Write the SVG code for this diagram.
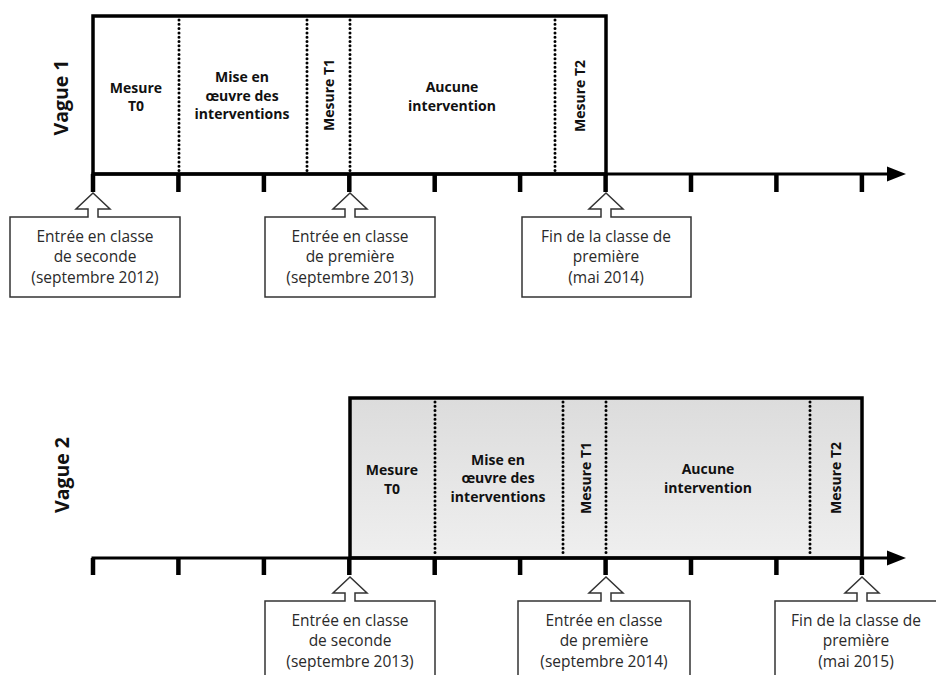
<svg xmlns="http://www.w3.org/2000/svg" width="936" height="675" viewBox="0 0 936 675">
<style>
.frame{fill:none;stroke:#000;stroke-width:3.5}
.axis{stroke:#000;stroke-width:3;fill:none}
.tick{stroke:#000;stroke-width:4.5}
.dot{stroke:#000;stroke-width:3;stroke-dasharray:0 4.3;stroke-linecap:round;fill:none}
.b{font-family:"Open Sans","Liberation Sans",sans-serif;font-weight:700;font-size:14px;fill:#111;text-anchor:middle}
.lab{font-family:"Open Sans","Liberation Sans",sans-serif;font-weight:700;font-size:19.5px;fill:#111;text-anchor:middle}
.call{fill:#fff;stroke:#333;stroke-width:1.5}
.t{font-family:"Open Sans","Liberation Sans",sans-serif;font-size:15.5px;fill:#2a2a2a;text-anchor:middle}
</style>
<defs>
<linearGradient id="gr" x1="0" y1="0" x2="0" y2="1">
<stop offset="0" stop-color="#dcdcdc"/>
<stop offset="1" stop-color="#efefef"/>
</linearGradient>
</defs>

<g id="vague1">
<text class="lab" transform="translate(68,97.5) rotate(-90)">Vague 1</text>
<rect class="frame" x="93" y="16" width="513" height="158"/>
<line class="dot" x1="179" y1="20" x2="179" y2="172"/>
<line class="dot" x1="307" y1="20" x2="307" y2="172"/>
<line class="dot" x1="350" y1="20" x2="350" y2="172"/>
<line class="dot" x1="555" y1="20" x2="555" y2="172"/>
<text class="b" x="136" y="92.5">Mesure</text>
<text class="b" x="136" y="110.5">T0</text>
<text class="b" x="242" y="82">Mise en</text>
<text class="b" x="242" y="100.5">œuvre des</text>
<text class="b" x="242" y="119">interventions</text>
<text class="b" transform="translate(333.5,95) rotate(-90)">Mesure T1</text>
<text class="b" x="452" y="91.5">Aucune</text>
<text class="b" x="452" y="110.5">intervention</text>
<text class="b" transform="translate(584.5,96) rotate(-90)">Mesure T2</text>
</g>

<g id="vague2">
<text class="lab" transform="translate(69,475) rotate(-90)">Vague 2</text>
<rect x="350" y="398" width="512" height="160" fill="url(#gr)"/>
<rect class="frame" x="350" y="398" width="512" height="160"/>
<line class="dot" x1="435" y1="402" x2="435" y2="556"/>
<line class="dot" x1="563" y1="402" x2="563" y2="556"/>
<line class="dot" x1="606" y1="402" x2="606" y2="556"/>
<line class="dot" x1="810" y1="402" x2="810" y2="556"/>
<text class="b" x="392" y="474.5">Mesure</text>
<text class="b" x="392" y="493.5">T0</text>
<text class="b" x="498" y="464.5">Mise en</text>
<text class="b" x="498" y="483">œuvre des</text>
<text class="b" x="498" y="502">interventions</text>
<text class="b" transform="translate(590.5,478) rotate(-90)">Mesure T1</text>
<text class="b" x="708" y="473.5">Aucune</text>
<text class="b" x="708" y="492.5">intervention</text>
<text class="b" transform="translate(840.5,478) rotate(-90)">Mesure T2</text>
</g>

<g id="connectors">
<line class="axis" x1="91.5" y1="174" x2="892" y2="174"/>
<polygon points="887,166.5 906,174 887,181.5" fill="#000"/>
<g class="tick">
<line x1="93" y1="174" x2="93" y2="192"/>
<line x1="178.4" y1="174" x2="178.4" y2="192"/>
<line x1="263.9" y1="174" x2="263.9" y2="192"/>
<line x1="349.3" y1="174" x2="349.3" y2="192"/>
<line x1="434.7" y1="174" x2="434.7" y2="192"/>
<line x1="520.1" y1="174" x2="520.1" y2="192"/>
<line x1="605.6" y1="174" x2="605.6" y2="192"/>
<line x1="691" y1="174" x2="691" y2="192"/>
<line x1="776.4" y1="174" x2="776.4" y2="192"/>
<line x1="861.9" y1="174" x2="861.9" y2="192"/>
</g>
<line class="axis" x1="91.5" y1="558" x2="892" y2="558"/>
<polygon points="887,550.5 906,558 887,565.5" fill="#000"/>
<g class="tick">
<line x1="93" y1="558" x2="93" y2="575"/>
<line x1="178.4" y1="558" x2="178.4" y2="575"/>
<line x1="263.9" y1="558" x2="263.9" y2="575"/>
<line x1="349.3" y1="558" x2="349.3" y2="575"/>
<line x1="434.7" y1="558" x2="434.7" y2="575"/>
<line x1="520.1" y1="558" x2="520.1" y2="575"/>
<line x1="605.6" y1="558" x2="605.6" y2="575"/>
<line x1="691" y1="558" x2="691" y2="575"/>
<line x1="776.4" y1="558" x2="776.4" y2="575"/>
<line x1="861.9" y1="558" x2="861.9" y2="575"/>
</g>
</g>

<g id="callout1">
<path class="call" d="M10,217 H88 V209 H76 L93,193 L110,209 H98 V217 H180 V297 H10 Z"/>
<text class="t" x="95" y="241.5">Entrée en classe</text>
<text class="t" x="95" y="262">de seconde</text>
<text class="t" x="95" y="282.5">(septembre 2012)</text>
</g>
<g id="callout2">
<path class="call" d="M265,217 H345 V209 H333 L350,193 L367,209 H355 V217 H435 V297 H265 Z"/>
<text class="t" x="350" y="241.5">Entrée en classe</text>
<text class="t" x="350" y="262">de première</text>
<text class="t" x="350" y="282.5">(septembre 2013)</text>
</g>
<g id="callout3">
<path class="call" d="M522,217 H601 V209 H589 L606,193 L623,209 H611 V217 H691 V297 H522 Z"/>
<text class="t" x="606" y="241.5">Fin de la classe de</text>
<text class="t" x="606" y="262">première</text>
<text class="t" x="606" y="282.5">(mai 2014)</text>
</g>
<g id="callout4">
<path class="call" d="M265,601 H345 V593 H333 L350,577 L367,593 H355 V601 H435 V682 H265 Z"/>
<text class="t" x="350" y="625.5">Entrée en classe</text>
<text class="t" x="350" y="646">de seconde</text>
<text class="t" x="350" y="666.5">(septembre 2013)</text>
</g>
<g id="callout5">
<path class="call" d="M518,601 H601 V593 H589 L606,577 L623,593 H611 V601 H690 V682 H518 Z"/>
<text class="t" x="604" y="625.5">Entrée en classe</text>
<text class="t" x="604" y="646">de première</text>
<text class="t" x="604" y="666.5">(septembre 2014)</text>
</g>
<g id="callout6">
<path class="call" d="M775,601 H857 V593 H845 L862,577 L879,593 H867 V601 H942 V682 H775 Z"/>
<text class="t" x="856" y="625.5">Fin de la classe de</text>
<text class="t" x="856" y="646">première</text>
<text class="t" x="856" y="666.5">(mai 2015)</text>
</g>
</svg>
